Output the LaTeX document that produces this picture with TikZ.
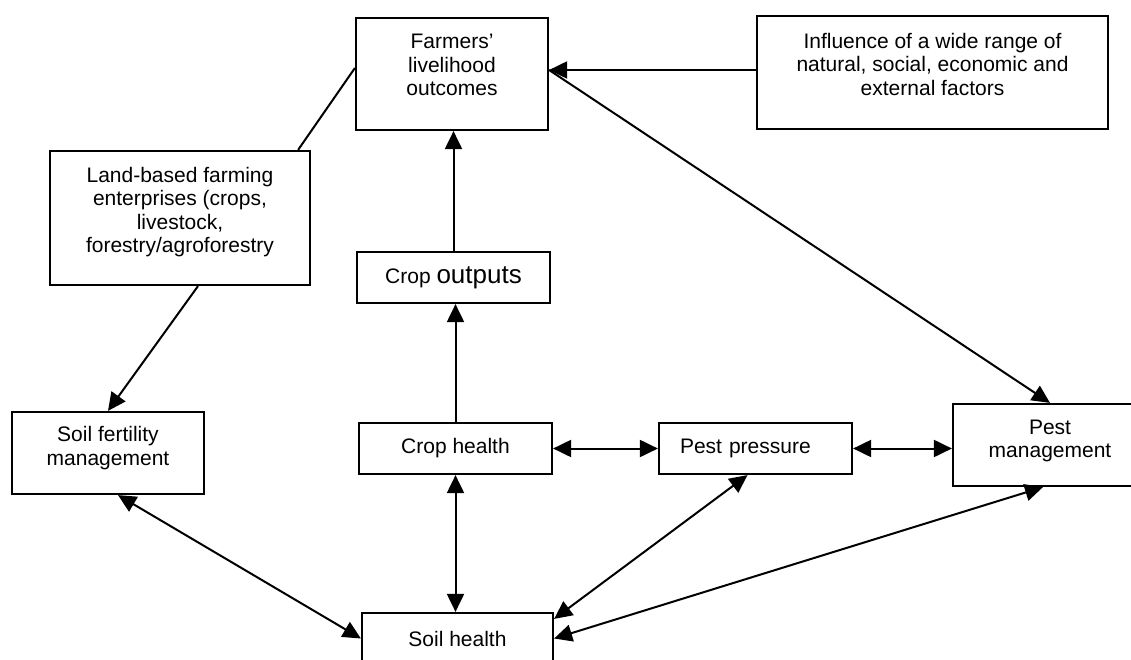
\documentclass[tikz,border=0pt]{standalone}
\usepackage{fontspec}
\setmainfont{Liberation Sans}
\usetikzlibrary{arrows.meta}
\tikzset
{
    infobox/.style = {rectangle, draw=black, line width=2.2pt, align=center, inner sep=0pt, font=\fontsize{21}{23.5}\selectfont},
    flow/.style = {line width=2pt, -{Triangle[length=18pt,width=17pt]}},
    twoway/.style = {line width=2pt, {Triangle[length=18pt,width=17pt]}-{Triangle[length=18pt,width=17pt]}}
}

\begin{document}
\begin{tikzpicture}[x=1pt, y=-1pt]
	\clip (0,0) rectangle (1131,660);
	\fill[white] (0,0) rectangle (1131,660);
	% boxes
	\node[infobox, minimum width=192pt, minimum height=112pt, text depth=18pt] (farmers) at (452,74) {Farmers'\\livelihood\\outcomes};
	\node[infobox, minimum width=351pt, minimum height=113pt, text depth=17pt] (influence) at (932.5,72.5) {Influence of a wide range of\\natural, social, economic and\\external factors};
	\node[infobox, minimum width=260pt, minimum height=134pt, text depth=16pt] (land) at (180,218) {Land-based farming\\enterprises (crops,\\livestock,\\forestry/agroforestry};
	\node[infobox, minimum width=193pt, minimum height=51pt] (cropout) at (453.5,277.5) {Crop {\fontsize{26}{28}\selectfont outputs}};
	\node[infobox, minimum width=192pt, minimum height=82pt, text depth=14pt] (soilfert) at (108,453) {Soil fertility\\management};
	\node[infobox, minimum width=193pt, minimum height=51pt] (crophealth) at (455.5,448.5) {Crop health};
	\node[infobox, minimum width=193pt, minimum height=51pt, text width=151pt, align=left, inner xsep=21pt] (pestpress) at (755.5,448.5) {Pest pressure};
	\node[infobox, minimum width=194pt, minimum height=82pt, text depth=12pt] (pestmgmt) at (1050,445) {Pest\\management};
	\node[infobox, minimum width=191pt, minimum height=51pt] (soilhealth) at (457.5,638.5) {Soil health};
	% links
	\draw[flow] (influence.west |- 0,70) -- ([yshift=4pt]farmers.east);
	\draw[line width=2pt] ([yshift=6pt]farmers.west) -- ([xshift=-13pt]land.north east);
	\draw[flow] ([xshift=18pt]land.south) -- (soilfert.north);
	\draw[flow] (cropout.north) -- (cropout.north |- farmers.south);
	\draw[flow] (crophealth.north) -- (crophealth.north |- cropout.south);
	\draw[flow] ([yshift=4pt]farmers.east) -- (pestmgmt.north);
	\draw[twoway] (crophealth.east) -- (pestpress.west);
	\draw[twoway] (pestpress.east) -- (pestmgmt.west |- pestpress.east);
	\draw[twoway] (crophealth.south) -- (crophealth.south |- soilhealth.north);
	\draw[twoway] ([xshift=10pt]soilfert.south) -- (soilhealth.west);
	\draw[twoway] ([xshift=-8pt]pestpress.south) -- ([yshift=-7pt]soilhealth.north east);
	\draw[twoway] ([xshift=-7pt]pestmgmt.south) -- (soilhealth.east);
\end{tikzpicture}
\end{document}
